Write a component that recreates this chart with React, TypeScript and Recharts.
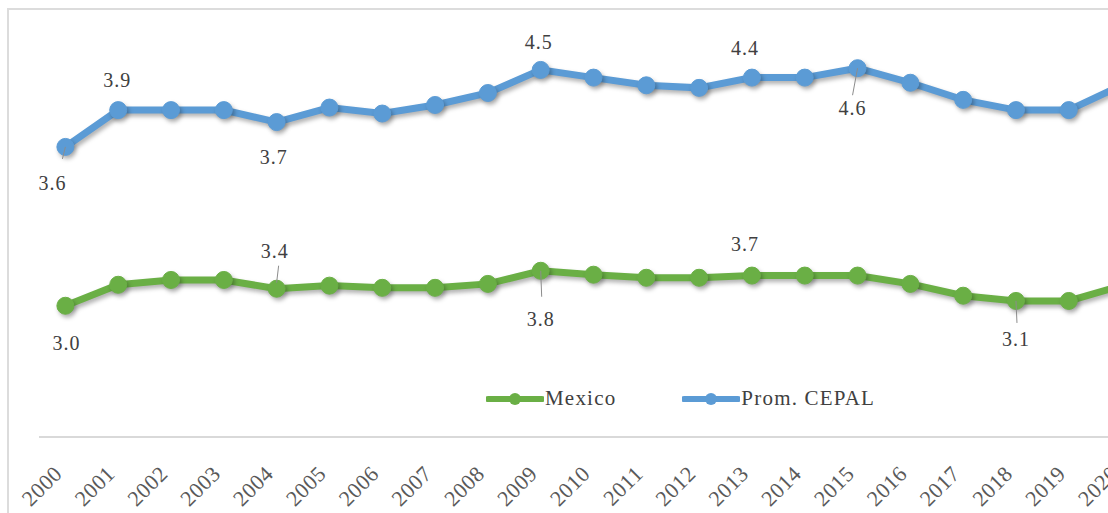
import { LineChart, Line, XAxis, YAxis } from "recharts";

const years = [
  "2000", "2001", "2002", "2003", "2004", "2005", "2006", "2007", "2008", "2009", "2010",
  "2011", "2012", "2013", "2014", "2015", "2016", "2017", "2018", "2019", "2020",
];

const mexico = [
  3.0, 3.48, 3.59, 3.59, 3.39, 3.46, 3.41, 3.41, 3.5, 3.8, 3.71,
  3.64, 3.64, 3.69, 3.69, 3.69, 3.5, 3.23, 3.11, 3.11, 3.46,
];

const cepal = [
  3.6, 4.03, 4.03, 4.03, 3.89, 4.06, 3.99, 4.09, 4.23, 4.5, 4.41,
  4.32, 4.29, 4.41, 4.41, 4.52, 4.35, 4.15, 4.03, 4.03, 4.32,
];

// data labels as printed on the chart
const mexicoLabels = ["3.0", "", "", "", "3.4", "", "", "", "", "3.8", "", "", "", "3.7", "", "", "", "", "3.1", "", ""];
const cepalLabels = ["3.6", "3.9", "", "", "3.7", "", "", "", "", "4.5", "", "", "", "4.4", "", "4.6", "", "", "", "", ""];

const seriesNames = { mexico: "Mexico", cepal: "Prom. CEPAL" };

const GREEN = "#6aaf45";
const BLUE = "#5b9bd5";
const FONT = '"Liberation Serif", "Times New Roman", Times, "DejaVu Serif", serif';

const data = years.map((year, i) => ({ year, mexico: mexico[i], cepal: cepal[i] }));

type Placement = { dx: number; dy: number; leader?: [number, number, number, number] };

// label offsets relative to the point
const placements: Record<string, Placement> = {
  "cepal-0": { dx: -13, dy: 36, leader: [0, 0, -3, 12] },
  "cepal-1": { dx: -1, dy: -30 },
  "cepal-4": { dx: -3, dy: 35 },
  "cepal-9": { dx: -2, dy: -28 },
  "cepal-13": { dx: -7, dy: -30 },
  "cepal-15": { dx: -5, dy: 40, leader: [0, 0, -5, 27] },
  "mexico-0": { dx: 1, dy: 37 },
  "mexico-4": { dx: -2, dy: -38, leader: [2, -23, 0, -6] },
  "mexico-9": { dx: 0, dy: 48, leader: [0, 0, 1, 26] },
  "mexico-13": { dx: -7, dy: -32 },
  "mexico-18": { dx: 0, dy: 38, leader: [0, 0, 1, 22] },
};

const makeLabel = (key: "mexico" | "cepal", labels: string[]) => (props: any) => {
  const { x, y, index } = props;
  const text = labels[index];
  const p = placements[`${key}-${index}`];
  if (!text || !p) return <g key={`${key}-l-${index}`} />;
  return (
    <g key={`${key}-l-${index}`}>
      {p.leader && (
        <line
          x1={x + p.leader[0]}
          y1={y + p.leader[1]}
          x2={x + p.leader[2]}
          y2={y + p.leader[3]}
          stroke="#8c8c8c"
          strokeWidth={1}
        />
      )}
      <text
        x={x + p.dx}
        y={y + p.dy}
        textAnchor="middle"
        dominantBaseline="central"
        style={{ fontFamily: FONT }}
        fontSize={20}
        letterSpacing={1}
        fill="#404040"
      >
        {text}
      </text>
    </g>
  );
};

const YearTick = (props: any) => {
  const { x, y, payload } = props;
  const tx = x - 2;
  const ty = y + 38;
  return (
    <text
      x={tx}
      y={ty}
      transform={`rotate(-45, ${tx}, ${ty})`}
      textAnchor="end"
      style={{ fontFamily: FONT }}
      fontSize={22}
      letterSpacing={0.5}
      fill="#595959"
    >
      {payload.value}
    </text>
  );
};

const LegendIcon = ({ color }: { color: string }) => (
  <svg width={58} height={14} style={{ display: "block" }}>
    <line x1={2} y1={7} x2={56} y2={7} stroke={color} strokeWidth={6} strokeLinecap="round" />
    <circle cx={29} cy={7} r={6} fill={color} />
  </svg>
);

export default function App() {
  return (
    <div style={{ position: "relative", width: 1108, height: 513, overflow: "hidden", background: "#fff" }}>
      <style>{`
        body { margin: 0; }
        .recharts-line-curve, .recharts-line-dots { filter: drop-shadow(2px 3px 2px rgba(0,0,0,0.3)); }
      `}</style>
      <div
        style={{
          position: "absolute",
          left: 7,
          top: 8,
          width: 1110,
          height: 520,
          borderTop: "2px solid #dcdcdc",
          borderLeft: "2px solid #dcdcdc",
        }}
      />
      <div style={{ position: "absolute", left: 0, top: 0 }}>
        <LineChart width={1161} height={513} data={data} margin={{ top: 10, right: 13, left: 39, bottom: 0 }}>
          <XAxis
            dataKey="year"
            height={76}
            interval={0}
            padding={{ left: 26.4, right: 26.4 }}
            axisLine={{ stroke: "#d9d9d9", strokeWidth: 2 }}
            tickLine={false}
            tickSize={0}
            tickMargin={0}
            tick={<YearTick />}
          />
          <YAxis yAxisId="mx" hide type="number" domain={[0, 9.76]} allowDataOverflow />
          <YAxis yAxisId="ce" hide type="number" domain={[0.21, 5.2]} allowDataOverflow />
          <Line
            yAxisId="mx"
            dataKey="mexico"
            name={seriesNames.mexico}
            stroke={GREEN}
            strokeWidth={7}
            dot={{ r: 8.5, fill: GREEN, stroke: GREEN, strokeWidth: 1 }}
            activeDot={false}
            label={makeLabel("mexico", mexicoLabels)}
            isAnimationActive={false}
          />
          <Line
            yAxisId="ce"
            dataKey="cepal"
            name={seriesNames.cepal}
            stroke={BLUE}
            strokeWidth={7}
            dot={{ r: 8.5, fill: BLUE, stroke: BLUE, strokeWidth: 1 }}
            activeDot={false}
            label={makeLabel("cepal", cepalLabels)}
            isAnimationActive={false}
          />
        </LineChart>
      </div>
      <div
        style={{
          position: "absolute",
          left: 486,
          top: 386,
          display: "flex",
          alignItems: "center",
          fontFamily: FONT,
          fontSize: 21,
          letterSpacing: 1.2,
          color: "#404040",
          whiteSpace: "nowrap",
        }}
      >
        <LegendIcon color={GREEN} />
        <span style={{ marginLeft: 1 }}>{seriesNames.mexico}</span>
        <span style={{ width: 66 }} />
        <LegendIcon color={BLUE} />
        <span style={{ marginLeft: 1 }}>{seriesNames.cepal}</span>
      </div>
    </div>
  );
}
